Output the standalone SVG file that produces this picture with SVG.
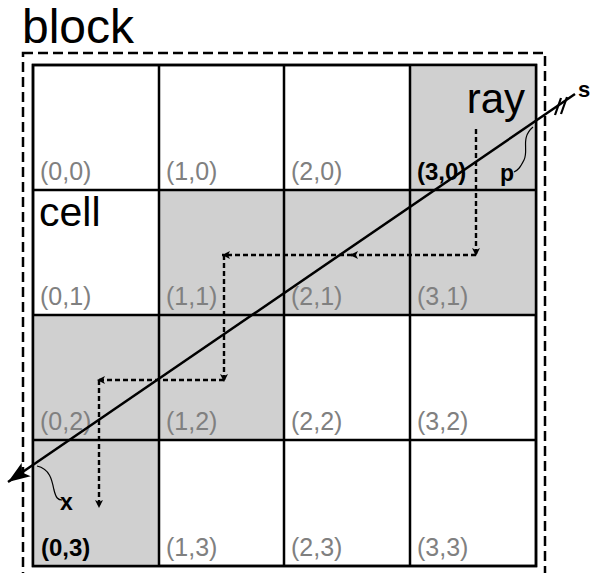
<svg xmlns="http://www.w3.org/2000/svg" width="593" height="573" viewBox="0 0 593 573">
<style>
.cell{fill:#fff;stroke:#000;stroke-width:2.5}
.sh{fill:#d0d0d0}
.idx{font-family:"Liberation Sans",Arial,sans-serif;font-size:25px;fill:#808080}
.bidx{font-family:"Liberation Sans",Arial,sans-serif;font-size:24px;font-weight:bold;fill:#000}
.big{font-family:"Liberation Sans",Arial,sans-serif;fill:#000}
.step{fill:none;stroke:#000;stroke-width:2.4;stroke-dasharray:5 3;marker-end:url(#sm)}
.lead{fill:none;stroke:#000;stroke-width:1.2}
</style>
<defs>
<marker id="sm" markerUnits="userSpaceOnUse" markerWidth="10" markerHeight="10" refX="8" refY="4" orient="auto" viewBox="0 0 10 8">
<path d="M0,0 L8,4 L0,8 L2,4 z" fill="#000"/>
</marker>
<marker id="big" markerUnits="userSpaceOnUse" markerWidth="24" markerHeight="18" refX="22" refY="8" orient="auto" viewBox="0 0 24 16">
<path d="M0,0 L22,8 L0,16 L5,8 z" fill="#000"/>
</marker>
</defs>
<g id="block">
<rect x="23" y="53" width="522" height="530" fill="none" stroke="#000" stroke-width="2.5" stroke-dasharray="10 5"/>
<text class="big" x="22" y="43" font-size="48">block</text>
</g>
<g id="grid">
<rect class="cell" x="33" y="65" width="503" height="501"/>
<rect class="sh" x="410" y="65" width="126" height="125"/>
<rect class="sh" x="159" y="190" width="377" height="125"/>
<rect class="sh" x="33" y="315" width="251" height="125"/>
<rect class="sh" x="33" y="440" width="126" height="126"/>
<g stroke="#000" stroke-width="2.5" fill="none">
<rect x="33" y="65" width="503" height="501"/>
<path d="M159,65 V566 M284,65 V566 M410,65 V566 M33,190 H536 M33,315 H536 M33,440 H536"/>
</g>
</g>
<g id="cell-labels">
<text class="idx" x="40" y="180">(0,0)</text>
<text class="idx" x="166" y="180">(1,0)</text>
<text class="idx" x="291" y="180">(2,0)</text>
<text class="bidx" x="417" y="180">(3,0)</text>
<text class="idx" x="40" y="305">(0,1)</text>
<text class="idx" x="166" y="305">(1,1)</text>
<text class="idx" x="291" y="305">(2,1)</text>
<text class="idx" x="417" y="305">(3,1)</text>
<text class="idx" x="40" y="430">(0,2)</text>
<text class="idx" x="166" y="430">(1,2)</text>
<text class="idx" x="291" y="430">(2,2)</text>
<text class="idx" x="417" y="430">(3,2)</text>
<text class="bidx" x="41" y="556">(0,3)</text>
<text class="idx" x="166" y="556">(1,3)</text>
<text class="idx" x="291" y="556">(2,3)</text>
<text class="idx" x="417" y="556">(3,3)</text>
<text class="big" x="39" y="226" font-size="41">cell</text>
<text class="big" x="525" y="113" font-size="42" text-anchor="end">ray</text>
</g>
<g id="connectors">
<path class="step" d="M476,129 V256"/>
<path class="step" d="M476,255 H350"/>
<path class="step" d="M352,255 H222"/>
<path class="step" d="M224,255 V382"/>
<path class="step" d="M224,380 H97"/>
<path class="step" d="M99,380 V508"/>
<path d="M575,94 L8,482" stroke="#000" stroke-width="2.5" fill="none" marker-end="url(#big)"/>
<path d="M555,115 L561,98 M561,114 L567,97" stroke="#000" stroke-width="2.2" fill="none"/>
<path class="lead" d="M533,127 C520,138 529,150 524,160 C520,168 518,170 514,172"/>
<path class="lead" d="M37,466 C50,469 52,480 54,490 C56,498 58,500 62,500"/>
</g>
<g id="labels">
<text class="big" x="578" y="97" font-size="22" font-weight="bold">s</text>
<text class="big" x="500" y="181" font-size="23" font-weight="bold">p</text>
<text class="big" x="60" y="510" font-size="23" font-weight="bold">x</text>
</g>
</svg>
